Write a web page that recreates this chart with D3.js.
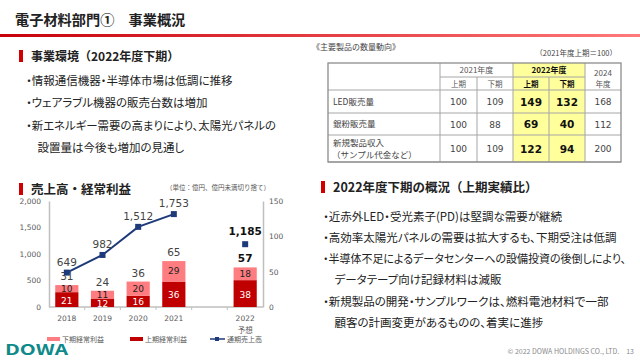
<!DOCTYPE html>
<html><head><meta charset="utf-8">
<script src="https://cdn.jsdelivr.net/npm/d3@7"></script>
<style>
body{margin:0;background:#fff}
svg{display:block}
text{font-family:"Noto Sans CJK JP","Noto Sans",sans-serif}
.num{font-family:"DejaVu Sans",Verdana,sans-serif}
.bul{font-feature-settings:"palt"}
</style></head><body>
<svg id="c" width="640" height="360"></svg>
<script>
// ---------- data ----------
const slideTitle = "電子材料部門①　事業概況";
const years = ["2018","2019","2020","2021","2022"];
const slots = ["2018","2019","2020","2021","gap","2022"];
const firstHalfProfit = [21,12,16,36,38];
const secondHalfProfit = [10,11,20,29,18];
const totalProfit = [31,24,36,65,57];
const annualSales = [649,982,1512,1753,1185];
const salesTicks = [0,500,1000,1500,2000];
const profitTicks = [0,50,100,150];
const legendLabels = ["下期経常利益","上期経常利益","通期売上高"];

const tableRowLabels = [["LED販売量"],["銀粉販売量"],["新規製品収入","（サンプル代金など）"]];
const tableYears = ["2021年度","2022年度","2024","年度"];
const tableHalves = ["上期","下期","上期","下期"];
const ledSales = [100,109,149,132,168];
const silverSales = [100,88,69,40,112];
const newProductRevenue = [100,109,122,94,200];

const envHeading = "事業環境（2022年度下期）";
const envBullets = ["・情報通信機器・半導体市場は低調に推移","・ウェアラブル機器の販売台数は増加","・新エネルギー需要の高まりにより、太陽光パネルの","　設置量は今後も増加の見通し"];
const chartHeading = "売上高・経常利益";
const unitNote = "（単位：億円、億円未満切り捨て）";
const reviewHeading = "2022年度下期の概況（上期実績比）";
const reviewBullets = ["・近赤外LED・受光素子(PD)は堅調な需要が継続","・高効率太陽光パネルの需要は拡大するも、下期受注は低調","・半導体不足によるデータセンターへの設備投資の後倒しにより、","　データテープ向け記録材料は減販","・新規製品の開発・サンプルワークは、燃料電池材料で一部","　顧客の計画変更があるものの、着実に進捗"];

// ---------- drawing ----------
const svg = d3.select("#c");
const RED = "#c00000", PINK = "#ff7c80", NAVY = "#1f3a7a";

const defs = svg.append("defs");
const g1 = defs.append("linearGradient").attr("id","rule").attr("x1","0%").attr("x2","100%");
g1.append("stop").attr("offset","0%").attr("stop-color","#c8000a");
g1.append("stop").attr("offset","100%").attr("stop-color","#ff7a7a");
svg.append("text").attr("x",15).attr("y",25).attr("font-size",14.2).attr("font-weight","bold").attr("fill","#222").text(slideTitle);
svg.append("rect").attr("x",0).attr("y",34).attr("width",640).attr("height",3).attr("fill","url(#rule)");

function heading(x,y,t,fs){
  svg.append("rect").attr("x",x).attr("y",y-6).attr("width",4).attr("height",12).attr("fill","#d00000");
  svg.append("text").attr("x",x+12).attr("y",y+4.5).attr("font-size",fs).attr("font-weight","bold").attr("fill","#222").text(t);
}
heading(19,56,envHeading,12);
heading(19,189,chartHeading,12.5);
heading(321,187,reviewHeading,12.5);

function fit(sel,maxW){
  sel.each(function(){ const w=this.getComputedTextLength(); if(w>maxW){ d3.select(this).attr("textLength",maxW).attr("lengthAdjust","spacingAndGlyphs"); } });
}
svg.append("g").selectAll("text").data(envBullets).join("text").attr("class","bul")
  .attr("x",26).attr("y",(d,i)=>[85,107,130,152][i]).attr("font-size",11.5).attr("fill","#222").text(d=>d).call(fit,250);
svg.append("g").selectAll("text").data(reviewBullets).join("text").attr("class","bul")
  .attr("x",323).attr("y",(d,i)=>[221,242,263,284,306,327][i]).attr("font-size",11.5).attr("fill","#222").text(d=>d).call(fit,303);

// ---------- table ----------
svg.append("text").attr("x",312).attr("y",50).attr("font-size",8).attr("fill","#444").text("《主要製品の数量動向》");
svg.append("text").attr("x",617).attr("y",56).attr("font-size",7.5).attr("fill","#444").attr("text-anchor","end").text("（2021年度上期＝100）");
const colX = [328,440,477,513,549,585,621];
const rowY = [63,77,90,113,135,162];
const tg = svg.append("g");
tg.append("rect").attr("x",colX[3]).attr("y",rowY[0]).attr("width",colX[5]-colX[3]).attr("height",rowY[5]-rowY[0]).attr("fill","#ffff9c");
const lc = "#a6a6a6";
function ln(x1,y1,x2,y2){tg.append("line").attr("x1",x1).attr("y1",y1).attr("x2",x2).attr("y2",y2).attr("stroke",lc).attr("stroke-width",1);}
ln(colX[1],rowY[1],colX[5],rowY[1]);
[2,3,4,5].forEach(r=>ln(colX[0],rowY[r],colX[6],rowY[r]));
ln(colX[1],rowY[0],colX[1],rowY[5]);
ln(colX[2],rowY[1],colX[2],rowY[5]);
ln(colX[3],rowY[0],colX[3],rowY[5]);
ln(colX[4],rowY[1],colX[4],rowY[5]);
ln(colX[5],rowY[0],colX[5],rowY[5]);
tg.append("rect").attr("x",colX[0]).attr("y",rowY[0]).attr("width",colX[6]-colX[0]).attr("height",rowY[5]-rowY[0]).attr("fill","none").attr("stroke","#8c8c8c").attr("stroke-width",1.3);
const cx = i => (colX[i+1]+colX[i+2])/2;
tg.append("text").attr("x",(colX[1]+colX[3])/2).attr("y",73).attr("font-size",8).attr("fill","#555").attr("text-anchor","middle").text(tableYears[0]);
tg.append("text").attr("x",(colX[3]+colX[5])/2).attr("y",73).attr("font-size",8).attr("font-weight","bold").attr("fill","#111").attr("text-anchor","middle").text(tableYears[1]);
tg.append("text").attr("x",cx(4)).attr("y",76).attr("font-size",8).attr("fill","#555").attr("text-anchor","middle").text(tableYears[2]);
tg.append("text").attr("x",cx(4)).attr("y",87).attr("font-size",7.5).attr("fill","#555").attr("text-anchor","middle").text(tableYears[3]);
tableHalves.forEach((h,i)=>{
  tg.append("text").attr("x",cx(i)).attr("y",87).attr("font-size",7.5).attr("fill",i>=2?"#111":"#555").attr("font-weight",i>=2?"bold":"normal").attr("text-anchor","middle").text(h);
});
const rowsData = [ledSales, silverSales, newProductRevenue];
rowsData.forEach((vals,r)=>{
  const yc = (rowY[r+2]+rowY[r+3])/2;
  const lab = tableRowLabels[r];
  lab.forEach((t,k)=>{
    tg.append("text").attr("x",lab.length>1&&k===1?332:333).attr("y",yc+3+(lab.length>1?(k===0?-6:6):0)).attr("font-size",8.5).attr("fill","#444").text(t);
  });
  vals.forEach((v,i)=>{
    const bold = (i===2||i===3);
    tg.append("text").attr("class","num").attr("x",cx(i)).attr("y",yc+(bold?4:3.5)).attr("font-size",bold?10.5:9).attr("font-weight",bold?"bold":"normal")
      .attr("fill",bold?"#111":"#444").attr("text-anchor","middle").text(v);
  });
});

// ---------- chart ----------
svg.append("text").attr("x",166).attr("y",190).attr("font-size",6.5).attr("fill","#555").text(unitNote);
const x = d3.scaleBand().domain(slots).range([49,263]).padding(0);
const bw = x.bandwidth()*0.65;
const yS = d3.scaleLinear().domain([0,2000]).range([307,201]);
const yP = d3.scaleLinear().domain([0,150]).range([307,201]);
const ch = svg.append("g");
const xc = y => x(y)+x.bandwidth()/2;

const axL = ch.append("g").attr("transform","translate(49,0)").call(d3.axisLeft(yS).tickValues(salesTicks).tickSize(0).tickPadding(8).tickFormat(d3.format(",")));
const axR = ch.append("g").attr("transform","translate(263,0)").call(d3.axisRight(yP).tickValues(profitTicks).tickSize(0).tickPadding(6));
[axL,axR].forEach(a=>{a.select(".domain").attr("stroke","#bfbfbf").attr("stroke-width",1.5);a.selectAll("text").attr("class","num").attr("font-size",7.5).attr("fill","#595959");});
ch.append("line").attr("x1",49).attr("x2",263).attr("y1",307).attr("y2",307).attr("stroke","#bfbfbf").attr("stroke-width",1.5);
ch.append("g").selectAll("line").data(slots.slice(1)).join("line").attr("x1",d=>x(d)).attr("x2",d=>x(d)).attr("y1",307).attr("y2",310).attr("stroke","#bfbfbf");

years.forEach((yr,i)=>{
  const X = xc(yr)-bw/2;
  const h1 = firstHalfProfit[i], h2 = secondHalfProfit[i];
  ch.append("rect").attr("x",X).attr("width",bw).attr("y",yP(h1)).attr("height",yP(0)-yP(h1)).attr("fill",RED);
  ch.append("rect").attr("x",X).attr("width",bw).attr("y",yP(h1+h2)).attr("height",yP(h1)-yP(h1+h2)).attr("fill",PINK);
  ch.append("text").attr("class","num").attr("x",xc(yr)).attr("y",(yP(0)+yP(h1))/2+4).attr("font-size",9).attr("fill","#fff").attr("text-anchor","middle").text(h1);
  ch.append("text").attr("class","num").attr("x",xc(yr)).attr("y",(yP(h1)+yP(h1+h2))/2+3).attr("font-size",9).attr("fill","#222").attr("text-anchor","middle").text(h2);
  const last = i===years.length-1;
  ch.append("text").attr("class","num").attr("x",xc(yr)).attr("y",yP(h1+h2)-5).attr("font-size",10.5).attr("font-weight",last?"bold":"normal").attr("fill",last?"#111":"#444").attr("text-anchor","middle").text(totalProfit[i]);
  ch.append("text").attr("class","num").attr("x",xc(yr)).attr("y",321).attr("font-size",7.5).attr("fill","#595959").attr("text-anchor","middle").text(yr);
});
ch.append("text").attr("x",xc("2022")).attr("y",333).attr("font-size",7.5).attr("fill","#595959").attr("text-anchor","middle").text("予想");

const pts = years.slice(0,4).map((yr,i)=>[xc(yr),yS(annualSales[i])]);
ch.append("path").attr("d",d3.line()(pts)).attr("fill","none").attr("stroke",NAVY).attr("stroke-width",2);
years.forEach((yr,i)=>{
  ch.append("rect").attr("x",xc(yr)-3).attr("y",yS(annualSales[i])-3).attr("width",6).attr("height",6).attr("fill",NAVY);
  const last = i===years.length-1;
  ch.append("text").attr("class","num").attr("x",xc(yr)).attr("y",yS(annualSales[i])-(last?9:7)).attr("font-size",10.5).attr("font-weight",last?"bold":"normal")
    .attr("fill",last?"#111":"#444").attr("text-anchor","middle").text(d3.format(",")(annualSales[i]));
});

const lg = svg.append("g").attr("font-size",7).attr("fill","#595959");
lg.append("rect").attr("x",47).attr("y",337).attr("width",13).attr("height",4).attr("fill",PINK);
lg.append("text").attr("x",62).attr("y",342).text(legendLabels[0]);
lg.append("rect").attr("x",130).attr("y",337).attr("width",13).attr("height",4).attr("fill",RED);
lg.append("text").attr("x",145).attr("y",342).text(legendLabels[1]);
lg.append("line").attr("x1",210).attr("x2",225).attr("y1",339).attr("y2",339).attr("stroke",NAVY).attr("stroke-width",1.5);
lg.append("rect").attr("x",215).attr("y",337).attr("width",4).attr("height",4).attr("fill",NAVY);
lg.append("text").attr("x",227).attr("y",342).text(legendLabels[2]);

svg.append("text").attr("x",5).attr("y",355).attr("font-family","DejaVu Sans").attr("font-weight","bold").attr("font-size",15)
  .attr("textLength",63).attr("lengthAdjust","spacingAndGlyphs").attr("fill","#0f8a8a").text("DOWA");
svg.append("text").attr("x",634).attr("y",354).attr("font-size",7).attr("fill","#8a8a8a").attr("text-anchor","end").text("© 2022 DOWA HOLDINGS CO., LTD.　13");
</script></body></html>
